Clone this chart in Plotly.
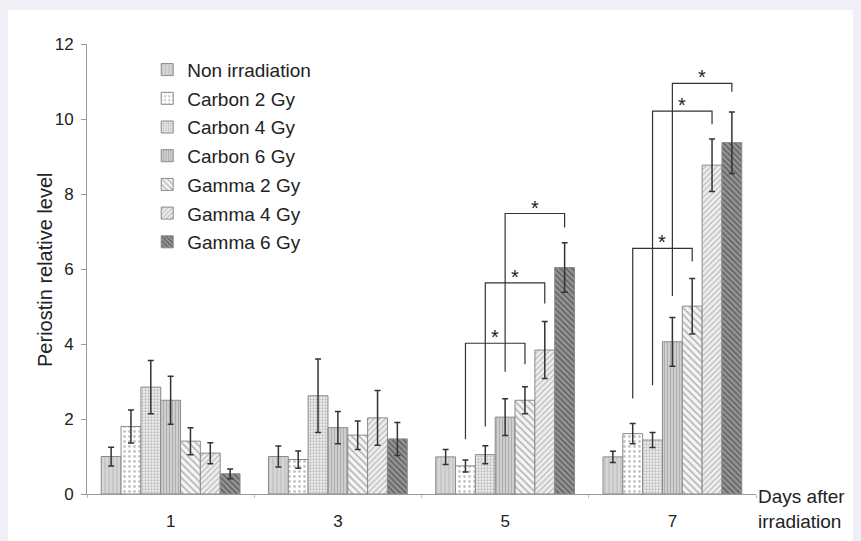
import plotly.graph_objects as go

days = ["1", "3", "5", "7"]
series = ["Non irradiation", "Carbon 2 Gy", "Carbon 4 Gy", "Carbon 6 Gy",
          "Gamma 2 Gy", "Gamma 4 Gy", "Gamma 6 Gy"]

non_irr = [1.00, 1.00, 0.99, 0.99]
carbon2 = [1.80, 0.92, 0.75, 1.61]
carbon4 = [2.85, 2.62, 1.05, 1.44]
carbon6 = [2.50, 1.77, 2.05, 4.06]
gamma2 = [1.41, 1.57, 2.50, 5.01]
gamma4 = [1.09, 2.03, 3.84, 8.77]
gamma6 = [0.54, 1.47, 6.04, 9.37]

non_irr_err = [0.25, 0.28, 0.20, 0.15]
carbon2_err = [0.44, 0.23, 0.16, 0.27]
carbon4_err = [0.71, 0.98, 0.24, 0.20]
carbon6_err = [0.64, 0.43, 0.49, 0.65]
gamma2_err = [0.36, 0.38, 0.36, 0.74]
gamma4_err = [0.28, 0.73, 0.76, 0.70]
gamma6_err = [0.13, 0.44, 0.66, 0.82]

values = [non_irr, carbon2, carbon4, carbon6, gamma2, gamma4, gamma6]
errors = [non_irr_err, carbon2_err, carbon4_err, carbon6_err, gamma2_err, gamma4_err, gamma6_err]

# significance brackets: (day index, left bar, right bar, left foot, top, right foot)
bracket_day = [2, 2, 2, 3, 3, 3]
bracket_left = [1, 2, 3, 1, 2, 3]
bracket_right = [4, 5, 6, 4, 5, 6]
bracket_left_foot = [1.46, 1.80, 3.26, 2.55, 2.90, 5.28]
bracket_top = [4.02, 5.63, 7.48, 6.55, 10.21, 10.95]
bracket_right_foot = [3.46, 5.08, 7.11, 6.20, 9.86, 10.73]

styles = [
    dict(bg="#d6d6d6", fg="#a8a8a8", shape="|", size=4, sol=0.3),
    dict(bg="#ffffff", fg="#8a8a8a", shape=".", size=5, sol=0.25),
    dict(bg="#f0f0f0", fg="#8a8a8a", shape=".", size=3, sol=0.45),
    dict(bg="#d2d2d2", fg="#8c8c8c", shape="|", size=3, sol=0.4),
    dict(bg="#f4f4f4", fg="#6e6e6e", shape="\\", size=5, sol=0.3),
    dict(bg="#f0f0f0", fg="#8a8a8a", shape="/", size=4, sol=0.35),
    dict(bg="#9a9a9a", fg="#333333", shape="\\", size=4, sol=0.5),
]

FONT = "Arial, Liberation Sans, sans-serif"
xpos = list(range(len(days)))
bargap = 0.17
bar_w = (1 - bargap) / len(series)

fig = go.Figure()
for i, (name, vals, errs, st) in enumerate(zip(series, values, errors, styles)):
    fig.add_trace(go.Bar(
        x=xpos, y=vals, name=name, legendgroup=name,
        marker=dict(color=st["bg"], line=dict(color="#8a8a8a", width=1),
                    pattern=dict(shape=st["shape"], bgcolor=st["bg"], fgcolor=st["fg"],
                                 size=st["size"], solidity=st["sol"])),
        error_y=dict(type="data", array=errs, color="#333333", thickness=1.5, width=3),
    ))

bx, by = [], []
for d, li, ri, lf, top, rf in zip(bracket_day, bracket_left, bracket_right,
                                  bracket_left_foot, bracket_top, bracket_right_foot):
    xl = d + (li - 3) * bar_w
    xr = d + (ri - 3) * bar_w
    bx += [xl, xl, xr, xr, None]
    by += [lf, top, top, rf, None]
    fig.add_annotation(x=(xl + xr) / 2, y=top, text="*", showarrow=False,
                       xanchor="center", yanchor="bottom", yshift=-7,
                       font=dict(family=FONT, size=20, color="#222"))
fig.add_trace(go.Scatter(x=bx, y=by, mode="lines", showlegend=False, hoverinfo="skip",
                         line=dict(color="#333333", width=1.2)))

fig.add_annotation(x=1.0, y=0, xref="paper", yref="paper", text="Days after<br>irradiation",
                   showarrow=False, xanchor="left", yanchor="top", align="left", yshift=10,
                   font=dict(family=FONT, size=19, color="#222"))

fig.add_annotation(x=-0.0628, y=0.5, xref="paper", yref="paper", text="Periostin relative level",
                   showarrow=False, textangle=-90, xanchor="center", yanchor="middle",
                   font=dict(family=FONT, size=20, color="#222"))

# page frame
fig.add_shape(type="rect", xref="paper", yref="paper", x0=-0.118, x1=1.2, y0=-0.2, y1=1.0756,
              fillcolor="white", line=dict(width=0), layer="below")

fig.update_layout(
    width=861, height=541,
    margin=dict(l=79, r=113, t=36, b=55),
    paper_bgcolor="#eef0f5", plot_bgcolor="white",
    barmode="group", bargap=bargap, bargroupgap=0,
    font=dict(family=FONT, color="#222"),
    legend=dict(x=0.09, y=0.985, xanchor="left", yanchor="top", bgcolor="rgba(0,0,0,0)",
                font=dict(family=FONT, size=19, color="#222"), tracegroupgap=1,
                itemwidth=30),
    showlegend=True,
)
fig.update_xaxes(range=[-0.5, 3.5], tickvals=xpos, ticktext=days, showgrid=False, zeroline=False,
                 automargin=False,
                 showline=True, linecolor="#999", linewidth=1,
                 ticks="outside", ticklen=12, tickcolor="rgba(0,0,0,0)",
                 tickfont=dict(family=FONT, size=17, color="#222"),
                 minor=dict(tickvals=[-0.5, 0.5, 1.5, 2.5, 3.5], ticks="outside", ticklen=3,
                            tickcolor="#bbb"))
fig.update_yaxes(range=[0, 12], dtick=2, showgrid=False, zeroline=False,
                 automargin=False,
                 showline=True, linecolor="#999", linewidth=1,
                 ticks="outside", ticklen=5, tickcolor="#999", ticklabelstandoff=4,
                 tickfont=dict(family=FONT, size=17, color="#222"))

fig.write_html("out.html", post_script="document.body.style.background='#eef0f5';")
